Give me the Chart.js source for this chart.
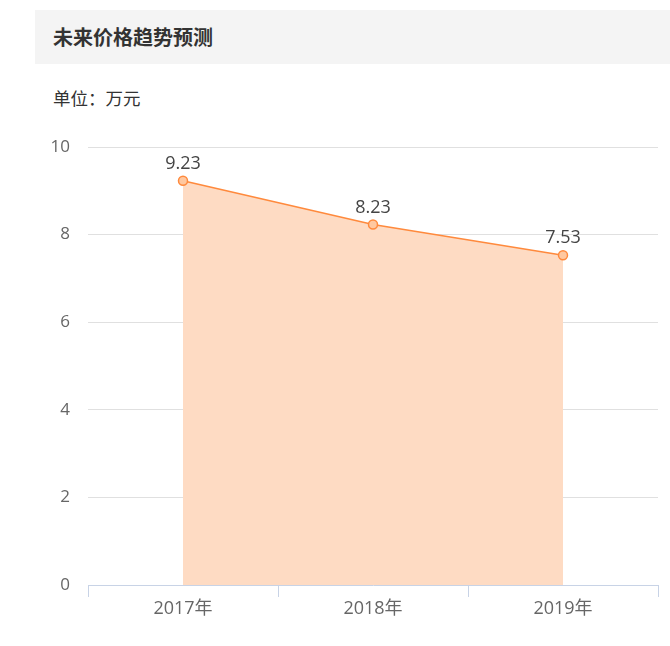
<!DOCTYPE html>
<html>
<head>
<meta charset="utf-8">
<script src="https://cdn.jsdelivr.net/npm/chart.js@4/dist/chart.umd.min.js"></script>
<style>
  html, body { margin: 0; padding: 0; background: #fff; }
  body { width: 670px; height: 646px; position: relative; overflow: hidden;
         font-family: "Open Sans", "Noto Sans CJK SC", sans-serif; }
  #titlebar { position: absolute; left: 35px; top: 10px; width: 635px; height: 54px; background: #f4f4f4; }
  #title { position: absolute; left: 18px; top: 0; line-height: 54px; font-size: 20px; font-weight: bold; color: #333;
           font-family: "Noto Sans CJK SC", sans-serif; }
  #unit { position: absolute; left: 53px; top: 85px; font-size: 17.5px; color: #333; line-height: 26px;
          font-family: "Noto Sans CJK SC", sans-serif; }
  #wrap { position: absolute; left: 0; top: 0; width: 670px; height: 646px; }
</style>
</head>
<body>
<div id="titlebar"><div id="title">未来价格趋势预测</div></div>
<div id="unit">单位：万元</div>
<div id="wrap"><canvas id="c"></canvas></div>
<script>
const categories = ["2017年", "2018年", "2019年"];
const prices = [9.23, 8.23, 7.53];
const yTicks = [0, 2, 4, 6, 8, 10];

const valueLabels = {
  id: 'valueLabels',
  afterDatasetsDraw(chart) {
    const ctx = chart.ctx;
    const meta = chart.getDatasetMeta(0);
    ctx.save();
    ctx.font = '18px "Open Sans", "Noto Sans CJK SC", sans-serif';
    ctx.fillStyle = '#444';
    ctx.textAlign = 'center';
    ctx.textBaseline = 'middle';
    meta.data.forEach((pt, i) => {
      ctx.fillText(prices[i].toFixed(2), pt.x, pt.y - 17);
    });
    ctx.restore();
  }
};

new Chart(document.getElementById('c'), {
  type: 'line',
  data: {
    labels: categories,
    datasets: [{
      data: prices,
      borderColor: '#ff8a3d',
      borderWidth: 1.5,
      backgroundColor: '#fedbc3',
      fill: 'origin',
      tension: 0,
      pointRadius: 4.5,
      pointBorderWidth: 1.5,
      pointBackgroundColor: '#ffc8a0',
      pointBorderColor: '#ff8a3d'
    }]
  },
  options: {
    responsive: true,
    maintainAspectRatio: false,
    animation: false,
    devicePixelRatio: 1,
    layout: { padding: { top: 147, left: 0, right: 12, bottom: 21 } },
    plugins: { legend: { display: false }, tooltip: { enabled: false } },
    scales: {
      x: {
        offset: true,
        grid: { offset: true, drawOnChartArea: false, drawTicks: true, tickLength: 12, tickColor: '#c8d3e6' },
        border: { display: true, color: '#c8d3e6', width: 1 },
        ticks: { color: '#666', padding: 1, font: { size: 18, family: '"Open Sans", "Noto Sans CJK SC", sans-serif' } },
        afterFit(scale) { scale.height = 40; }
      },
      y: {
        min: 0, max: 10,
        afterBuildTicks(scale) { scale.ticks = yTicks.map(v => ({ value: v })); },
        grid: { drawTicks: false, color: ctx => (ctx.tick && ctx.tick.value === 0) ? 'rgba(0,0,0,0)' : '#e0e0e0' },
        border: { display: false },
        ticks: { color: '#666', padding: 18, font: { size: 17, family: '"Open Sans", "Noto Sans CJK SC", sans-serif' } },
        afterFit(scale) { scale.width = 88; }
      }
    }
  },
  plugins: [valueLabels]
});
</script>
</body>
</html>
